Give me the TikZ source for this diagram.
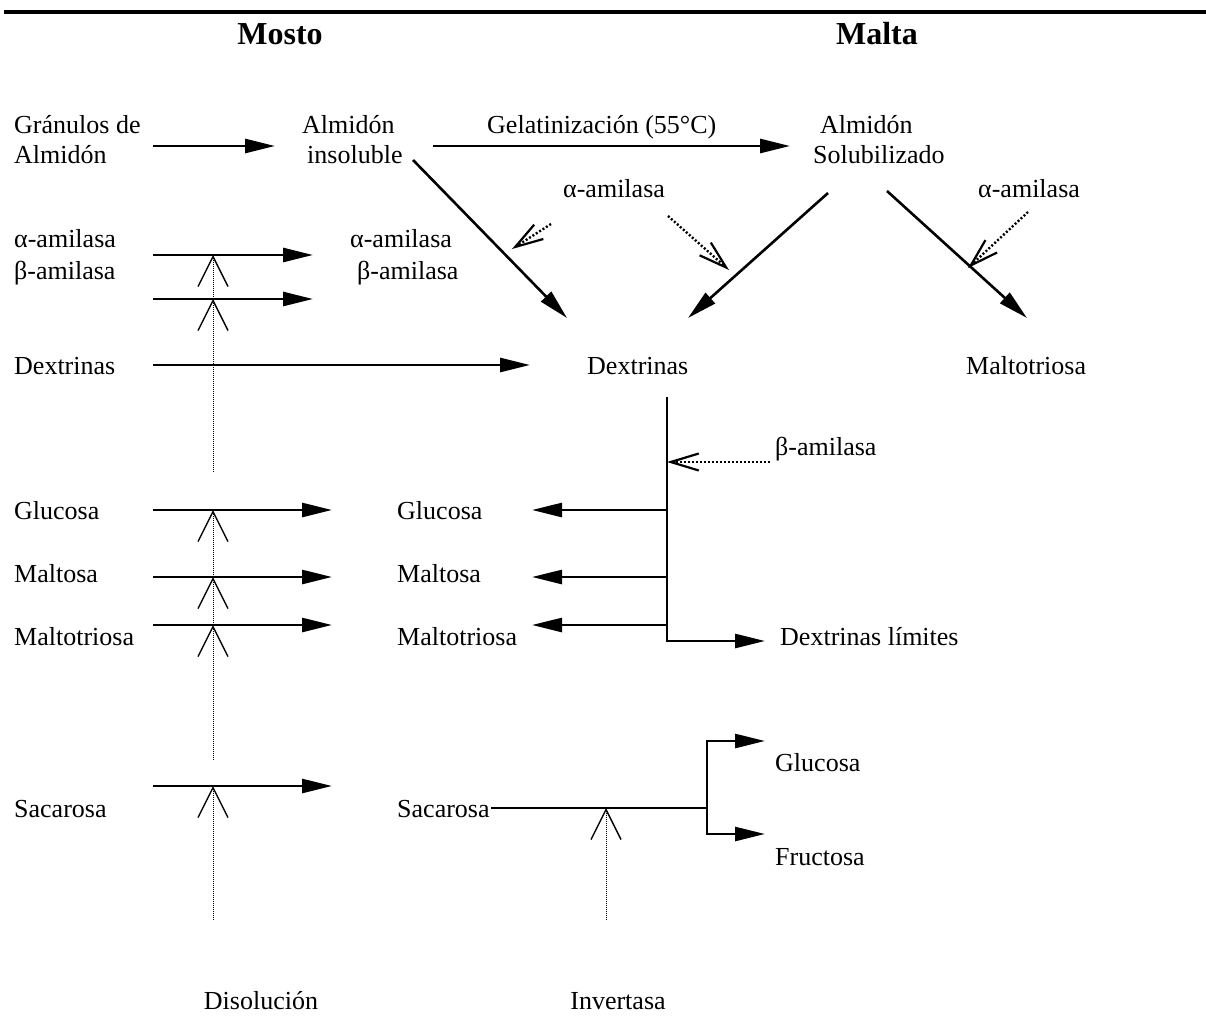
\documentclass[tikz,border=0pt]{standalone}
\usepackage{fontspec}
\setmainfont{Liberation Serif}
\usetikzlibrary{arrows.meta}
\begin{document}
\begin{tikzpicture}[x=1pt,y=-1pt,
  lbl/.style={anchor=base west, inner sep=0pt, font=\fontsize{26}{30}\selectfont},
  lblc/.style={anchor=base, inner sep=0pt, font=\fontsize{26}{30}\selectfont},
  ttl/.style={anchor=base, inner sep=0pt, font=\fontsize{32}{36}\selectfont\bfseries},
  main/.style={line width=2.6pt, -{Triangle[length=30pt,width=14pt]}},
  plainl/.style={line width=2.6pt},
  enz/.style={line width=2.4pt, dash pattern=on 2pt off 2pt, -{Straight Barb[length=28pt,width=17pt,line width=2.2pt]}},
  vmark/.style={line width=1pt, densely dotted, -{Straight Barb[length=30pt,width=30pt,line width=1.4pt]}},
  rule/.style={line width=3.5pt},
]
\useasboundingbox (0,0) rectangle (1206,1028);

% top rule
\coordinate (r0) at (4,12);
\coordinate (r1) at (1206,12);
\draw[rule] (r0) -- (r1);

% titles
\node[ttl] (mosto) at (280,44) {Mosto};
\node[ttl] (malta) at (877,44) {Malta};

% texts
\node[lbl] (gran1) at (14,133) {Gránulos de};
\node[lbl] (gran2) at (14,163) {Almidón};
\node[lbl] (ains1) at (302,133) {Almidón};
\node[lbl] (ains2) at (307,163) {insoluble};
\node[lbl] (gel) at (487,133) {Gelatinización (55°C)};
\node[lbl] (asol1) at (820,133) {Almidón};
\node[lbl] (asol2) at (813,163) {Solubilizado};
\node[lbl] (amid) at (563,197) {α-amilasa};
\node[lbl] (aright) at (978,197) {α-amilasa};
\node[lbl] (aleft) at (14,247) {α-amilasa};
\node[lbl] (bleft) at (14,279) {β-amilasa};
\node[lbl] (actr) at (350,247) {α-amilasa};
\node[lbl] (bctr) at (357,279) {β-amilasa};
\node[lbl] (dexl) at (14,374) {Dextrinas};
\node[lbl] (dexm) at (587,374) {Dextrinas};
\node[lbl] (maltr) at (966,374) {Maltotriosa};
\node[lbl] (bright) at (775,455) {β-amilasa};
\node[lbl] (glul) at (14,519) {Glucosa};
\node[lbl] (glum) at (397,519) {Glucosa};
\node[lbl] (mosl) at (14,582) {Maltosa};
\node[lbl] (mosm) at (397,582) {Maltosa};
\node[lbl] (mtrl) at (14,645) {Maltotriosa};
\node[lbl] (mtrm) at (397,645) {Maltotriosa};
\node[lbl] (dlim) at (780,645) {Dextrinas límites};
\node[lbl] (glur) at (775,771) {Glucosa};
\node[lbl] (sacl) at (14,817) {Sacarosa};
\node[lbl] (sacm) at (397,817) {Sacarosa};
\node[lbl] (fru) at (775,865) {Fructosa};
\node[lblc] (diso) at (261,1009) {Disolución};
\node[lblc] (inv) at (618,1009) {Invertasa};

% coordinates for connector ends
\coordinate (g0) at (153,146);  \coordinate (g1) at (275,146);
\coordinate (s0) at (433,146);  \coordinate (s1) at (790,146);
\coordinate (d1a) at (413,160); \coordinate (d1b) at (567,318);
\coordinate (d2a) at (828,193); \coordinate (d2b) at (688,318);
\coordinate (d3a) at (887,191); \coordinate (d3b) at (1027,318);
\coordinate (e1a) at (551,224); \coordinate (e1b) at (512,249);
\coordinate (e2a) at (668,216); \coordinate (e2b) at (729,270);
\coordinate (e3a) at (1028,212); \coordinate (e3b) at (968,268);
\coordinate (e4a) at (770,462); \coordinate (e4b) at (667,462);

\coordinate (h1a) at (153,255); \coordinate (h1b) at (313,255);
\coordinate (h2a) at (153,299); \coordinate (h2b) at (313,299);
\coordinate (h3a) at (153,365); \coordinate (h3b) at (530,365);
\coordinate (h4a) at (153,510); \coordinate (h4b) at (332,510);
\coordinate (h5a) at (153,577); \coordinate (h5b) at (332,577);
\coordinate (h6a) at (153,625); \coordinate (h6b) at (332,625);
\coordinate (h7a) at (153,786); \coordinate (h7b) at (332,786);

\coordinate (v1) at (213,255); \coordinate (v2) at (213,299); \coordinate (v3) at (213,472);
\coordinate (v4) at (213,510); \coordinate (v5) at (213,577); \coordinate (v6) at (213,625);
\coordinate (v7) at (213,760);
\coordinate (v8) at (213,786); \coordinate (v9) at (213,920);
\coordinate (w1) at (606,808); \coordinate (w2) at (606,920);

\coordinate (dx0) at (667,397);
\coordinate (dx1) at (667,510); \coordinate (dx2) at (667,577); \coordinate (dx3) at (667,625);
\coordinate (dxe) at (765,641);
\coordinate (pg) at (532,510); \coordinate (pm) at (532,577); \coordinate (pt) at (532,625);

\coordinate (sc0) at (491,808); \coordinate (sc1) at (707,808);
\coordinate (sg) at (765,741); \coordinate (sf) at (765,834);

% main reaction arrows
\draw[main] (g0) -- (g1);
\draw[main] (s0) -- (s1);
\draw[main] (d1a) -- (d1b);
\draw[main] (d2a) -- (d2b);
\draw[main] (d3a) -- (d3b);

% enzyme (dotted) arrows
\draw[enz] (e1a) -- (e1b);
\draw[enz] (e2a) -- (e2b);
\draw[enz] (e3a) -- (e3b);
\draw[enz] (e4a) -- (e4b);

% left column arrows
\draw[main] (h1a) -- (h1b);
\draw[main] (h2a) -- (h2b);
\draw[main] (h3a) -- (h3b);
\draw[main] (h4a) -- (h4b);
\draw[main] (h5a) -- (h5b);
\draw[main] (h6a) -- (h6b);
\draw[main] (h7a) -- (h7b);

% dissolution marks
\draw[vmark] (v3) -- (v2);
\draw[vmark] (v2) -- (v1);
\draw[vmark] (v7) -- (v6);
\draw[vmark] (v6) -- (v5);
\draw[vmark] (v5) -- (v4);
\draw[vmark] (v9) -- (v8);
\draw[vmark] (w2) -- (w1);

% dextrinas branch
\draw[main] (dx0) |- (dxe);
\draw[main] (dx1) -- (pg);
\draw[main] (dx2) -- (pm);
\draw[main] (dx3) -- (pt);

% sacarosa branch
\draw[plainl] (sc0) -- (sc1);
\draw[main] (sc1) |- (sg);
\draw[main] (sc1) |- (sf);

\end{tikzpicture}
\end{document}
